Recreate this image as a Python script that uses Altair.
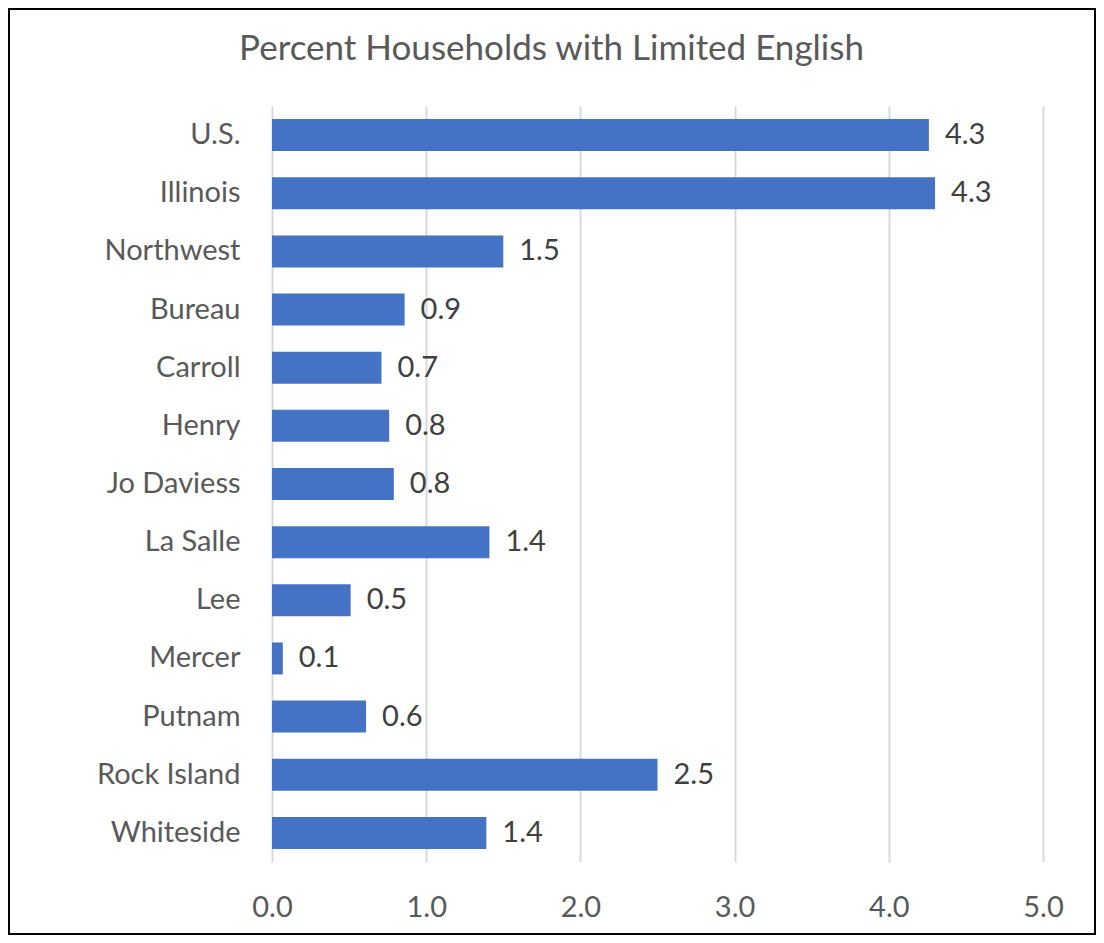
import altair as alt
import pandas as pd

categories = ["U.S.", "Illinois", "Northwest", "Bureau", "Carroll", "Henry",
              "Jo Daviess", "La Salle", "Lee", "Mercer", "Putnam",
              "Rock Island", "Whiteside"]
values = [4.26, 4.30, 1.50, 0.86, 0.71, 0.76, 0.79, 1.41, 0.51, 0.07, 0.61, 2.50, 1.39]
x_ticks = [0, 1, 2, 3, 4, 5]
title_text = "Percent Households with Limited English"

FONT = "Lato"
W, H = 771, 756
PAD = {"left": 264, "top": 98, "right": 53, "bottom": 73}

df = pd.DataFrame({"category": categories, "value": values})

base = alt.Chart(df).encode(
    y=alt.Y("category:N", sort=categories, title=None,
            scale=alt.Scale(paddingInner=0.45, paddingOuter=0.225),
            axis=alt.Axis(domain=False, ticks=False, labelPadding=32,
                          labelFontSize=29, labelColor="#595959", labelFont=FONT)),
)

bars = base.mark_bar(color="#4472C4").encode(
    x=alt.X("value:Q", title=None,
            scale=alt.Scale(domain=[0, 5], nice=False),
            axis=alt.Axis(values=x_ticks, format=".1f", domain=False, ticks=False,
                          grid=True, gridColor="#d9d9d9", gridWidth=2,
                          labelFlush=False, labelAlign="center",
                          labelPadding=31, labelFontSize=29, labelColor="#595959",
                          labelFont=FONT)),
)

labels = base.mark_text(align="left", baseline="middle", dx=16, fontSize=29,
                        color="#404040", font=FONT).encode(
    x="value:Q",
    text=alt.Text("value:Q", format=".1f"),
)

one = pd.DataFrame({"t": [title_text]})
title = alt.Chart(one).mark_text(align="center", baseline="alphabetic", fontSize=35,
                                 color="#595959", font=FONT).encode(
    x=alt.value(279.5), y=alt.value(-46), text="t:N")

border = alt.Chart(one).mark_rect(fill=None, stroke="#000000", strokeWidth=2).encode(
    x=alt.value(-263), x2=alt.value(W + PAD["right"] - 1),
    y=alt.value(-97), y2=alt.value(H + PAD["bottom"] - 1))

chart = alt.layer(bars, labels, title, border).properties(
    width=W, height=H,
    autosize=alt.AutoSizeParams(type="none"),
    padding=PAD,
    background="white",
).configure_view(stroke=None)

chart.save("out.html", embed_options={"renderer": "svg", "actions": False})
